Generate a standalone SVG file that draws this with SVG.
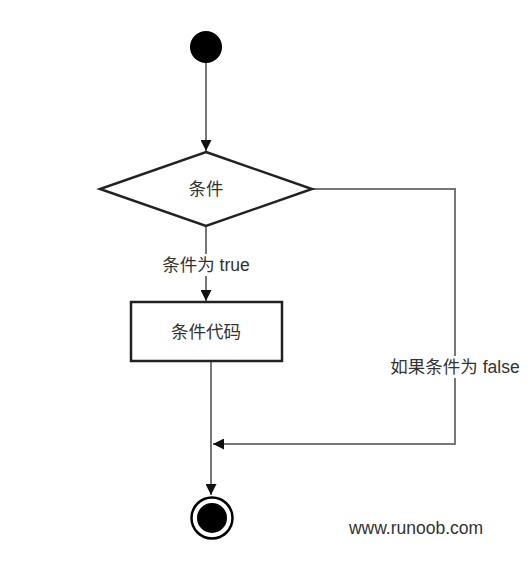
<svg xmlns="http://www.w3.org/2000/svg" width="532" height="569" viewBox="0 0 532 569">
<style>
.t{font-family:"Liberation Sans","Noto Sans CJK SC",sans-serif;font-size:17.5px;fill:#333;text-anchor:middle;dominant-baseline:central}
.e{fill:none;stroke:#777;stroke-width:2}
.n{fill:#fff;stroke:#222;stroke-width:2.5}
.lb{fill:#fff}
</style>
<defs>
<marker id="ah" viewBox="0 0 10 10" refX="10" refY="5" markerWidth="11" markerHeight="11" markerUnits="userSpaceOnUse" orient="auto">
<path d="M0,0 L10,5 L0,10 z" fill="#111"/>
</marker>
</defs>
<rect width="532" height="569" fill="#fff"/>
<g id="connectors">
<path class="e" d="M206,63 V151" marker-end="url(#ah)"/>
<path class="e" d="M206,226 V301" marker-end="url(#ah)"/>
<path class="e" d="M312,189 H455 V444 H213" marker-end="url(#ah)"/>
<path class="e" d="M211,362 V495" marker-end="url(#ah)"/>
<rect class="lb" x="158" y="254" width="96" height="22"/>
<text class="t" x="206" y="265">条件为 true</text>
<rect class="lb" x="387" y="356" width="136" height="22"/>
<text class="t" x="455" y="367">如果条件为 false</text>
</g>
<g id="start">
<circle cx="206" cy="47" r="16" fill="#000"/>
</g>
<g id="condition">
<path class="n" d="M206,152 L312,189 L206,226 L100,189 Z"/>
<text class="t" x="206" y="189">条件</text>
</g>
<g id="code">
<rect class="n" x="131" y="302" width="151" height="59"/>
<text class="t" x="206" y="332">条件代码</text>
</g>
<g id="end">
<circle cx="212" cy="518" r="20.5" fill="#fff" stroke="#000" stroke-width="2.5"/>
<circle cx="212" cy="518" r="15" fill="#000"/>
</g>
<text class="t" x="416" y="528">www.runoob.com</text>
</svg>
